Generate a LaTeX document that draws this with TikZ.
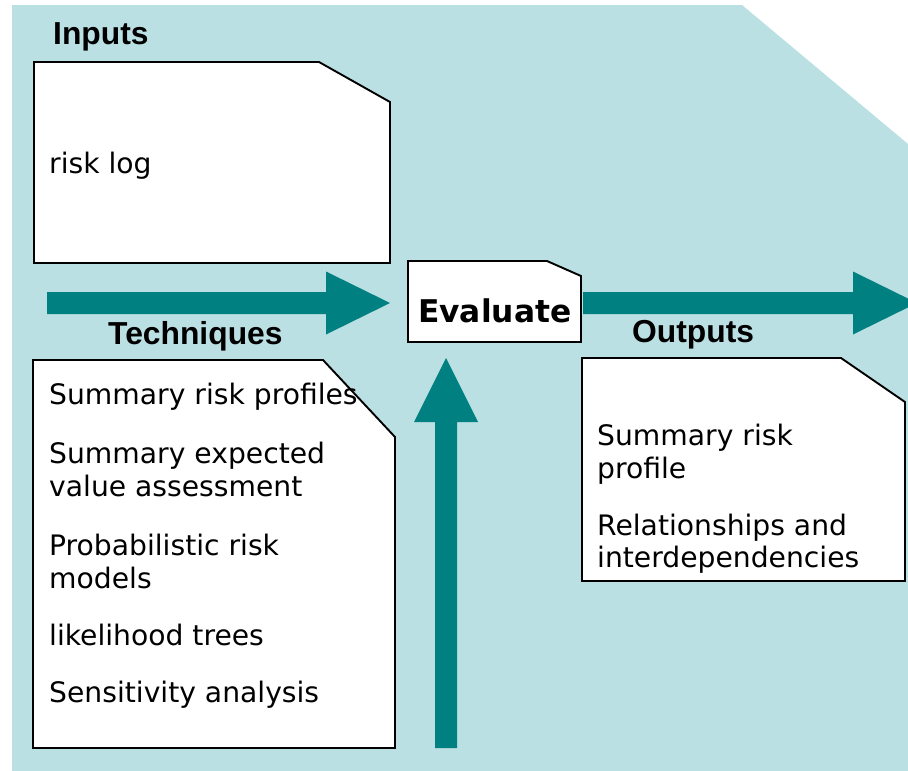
\documentclass[tikz,border=0pt]{standalone}
\usepackage{fontspec}
\setmainfont{DejaVu Sans}
\newfontfamily\headfont{Liberation Sans}
\usetikzlibrary{calc}
\definecolor{bgblue}{HTML}{BBE0E3}
\definecolor{arrteal}{HTML}{008080}
\begin{document}
\begin{tikzpicture}[x=1pt,y=-1pt,
  box/.style={draw=black, fill=white, line width=1.9pt, line join=miter},
  blockarrow/.style={fill=arrteal},
  head/.style={font=\headfont\bfseries\fontsize{31.8}{36}\selectfont, anchor=base west, inner sep=0pt},
  body/.style={font=\fontsize{28.2}{33}\selectfont, anchor=base west, inner sep=0pt},
  evaltext/.style={font=\bfseries\fontsize{31.3}{36}\selectfont, anchor=base west, inner sep=0pt}]
\useasboundingbox (0,0) rectangle (908,771);
\clip (0,0) rectangle (908,771);
% background panel
\fill[bgblue] (12,5) -- (742,5) -- (908,144) -- (908,771) -- (12,771) -- cycle;

% boxes with cut corners
\draw[box] (34,62) -- (319,62) -- (390,102) -- (390,263) -- (34,263) -- cycle;
\draw[box] (408,261) -- (547,261) -- (581,276) -- (581,342) -- (408,342) -- cycle;
\draw[box] (33,360) -- (323,360) -- (395,437) -- (395,748) -- (33,748) -- cycle;
\draw[box] (582,358) -- (841,358) -- (905,402) -- (905,581) -- (582,581) -- cycle;

% named anchor points of the block arrows
\coordinate (inStart) at (47,303);
\coordinate (inTip) at (390,303);
\coordinate (outStart) at (583,303);
\coordinate (outTip) at (917,303);
\coordinate (upStart) at (446,748);
\coordinate (upTip) at (446,358);

% block arrows
\fill[blockarrow] ($(inStart)+(0,-11)$) -- ($(inTip)+(-64,-11)$) -- ($(inTip)+(-64,-31.5)$) -- (inTip)
  -- ($(inTip)+(-64,31.5)$) -- ($(inTip)+(-64,11)$) -- ($(inStart)+(0,11)$) -- cycle;
\fill[blockarrow] ($(outStart)+(0,-11)$) -- ($(outTip)+(-64,-11)$) -- ($(outTip)+(-64,-31.5)$) -- (outTip)
  -- ($(outTip)+(-64,31.5)$) -- ($(outTip)+(-64,11)$) -- ($(outStart)+(0,11)$) -- cycle;
\fill[blockarrow] ($(upStart)+(-11,0)$) -- ($(upTip)+(-11,64)$) -- ($(upTip)+(-32,64)$) -- (upTip)
  -- ($(upTip)+(32,64)$) -- ($(upTip)+(11,64)$) -- ($(upStart)+(11,0)$) -- cycle;

% headings
\node[head] (inputs) at (53,44) {Inputs};
\node[head] (techniques) at (108,344) {Techniques};
\node[head] (outputs) at (632,342) {Outputs};
\node[evaltext] (evaluate) at (418,322) {Evaluate};

% inputs
\node[body] (risklog) at (49,173) {risk log};

% techniques
\node[body] (t1) at (49,404) {Summary risk profiles};
\node[body] (t2) at (49,463) {Summary expected};
\node[body] (t3) at (49,496) {value assessment};
\node[body] (t4) at (49,555) {Probabilistic risk};
\node[body] (t5) at (49,588) {models};
\node[body] (t6) at (49,645) {likelihood trees};
\node[body] (t7) at (49,702) {Sensitivity analysis};

% outputs
\node[body] (o1) at (597,445) {Summary risk};
\node[body] (o2) at (597,478) {profile};
\node[body] (o3) at (597,535) {Relationships and};
\node[body] (o4) at (597,567) {interdependencies};
\end{tikzpicture}
\end{document}
